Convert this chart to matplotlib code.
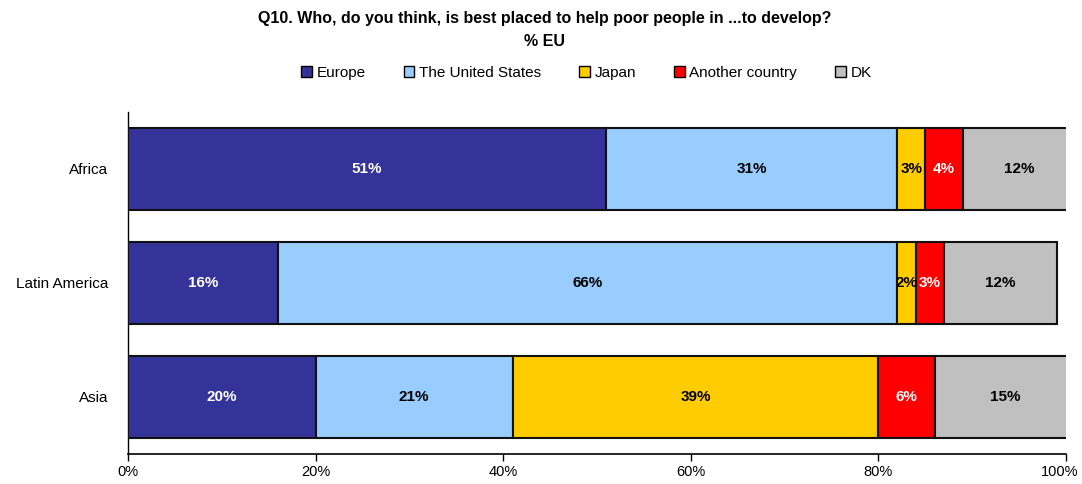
import matplotlib
matplotlib.use("Agg")
import matplotlib.pyplot as plt
import matplotlib.transforms as mtransforms
from matplotlib.patches import Patch

plt.rcParams['font.family'] = ['Liberation Sans', 'DejaVu Sans']

categories = ["Africa", "Latin America", "Asia"]
series = ["Europe", "The United States", "Japan", "Another country", "DK"]
values = {
    "Europe": [51, 16, 20],
    "The United States": [31, 66, 21],
    "Japan": [3, 2, 39],
    "Another country": [4, 3, 6],
    "DK": [12, 12, 15],
}
colors = ["#333399", "#99CCFF", "#FFCC00", "#FF0000", "#C0C0C0"]
label_colors = ["white", "black", "black", "white", "black"]
xticks = [0, 20, 40, 60, 80, 100]
xticklabels = ["0%", "20%", "40%", "60%", "80%", "100%"]

fig = plt.figure(figsize=(10.82, 4.84), dpi=100)
ax = fig.add_axes([128/1082, 1-454/484, (1066-128)/1082, (454-112)/484])

ypos = list(range(len(categories)))[::-1]
lefts = [0]*len(categories)
for s, c, lc in zip(series, colors, label_colors):
    vals = values[s]
    ax.barh(ypos, vals, left=lefts, height=0.72, color=c,
            edgecolor="#111111", linewidth=1.5, zorder=3)
    for y, v, l in zip(ypos, vals, lefts):
        ax.text(l + v/2, y, f"{v}%", ha="center", va="center",
                color=lc, fontsize=11, fontweight="bold", zorder=4)
    lefts = [l + v for l, v in zip(lefts, vals)]

ax.set_xlim(0, 100)
ax.set_ylim(-0.5, 2.5)
ax.set_yticks(ypos)
ax.set_yticklabels(categories, fontsize=11)
ax.tick_params(axis="y", length=0, pad=14)
ax.set_xticks(xticks)
ax.set_xticklabels(xticklabels, fontsize=10.5)
ax.tick_params(axis="x", direction="out", length=5, width=1, pad=3)
last = ax.get_xticklabels()[-1]
last.set_transform(last.get_transform() + mtransforms.ScaledTranslation(-6/100, 0, fig.dpi_scale_trans))
for sp in ["top", "right"]:
    ax.spines[sp].set_visible(False)
ax.spines["left"].set_linewidth(1)
ax.spines["bottom"].set_linewidth(1.2)

fig.text(0.503, 0.962, "Q10. Who, do you think, is best placed to help poor people in ...to develop?",
         ha="center", va="center", fontsize=11.5, fontweight="bold")
fig.text(0.503, 0.915, "% EU", ha="center", va="center", fontsize=11.5, fontweight="bold")

handles = [Patch(facecolor=c, edgecolor="black", linewidth=1) for c in colors]
fig.legend(handles, series, loc="center", bbox_to_anchor=(0.542, 0.849), ncol=5,
           frameon=False, fontsize=11, handlelength=0.7, handleheight=0.7,
           handletextpad=0.3, columnspacing=2.5)

fig.savefig("out.png", dpi=100)
